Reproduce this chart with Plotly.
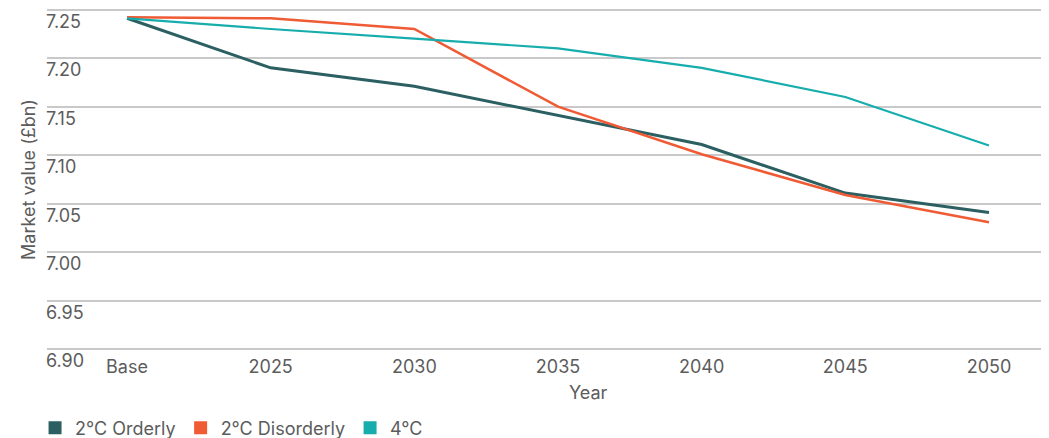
import plotly.graph_objects as go

categories = ["Base", "2025", "2030", "2035", "2040", "2045", "2050"]
orderly = [7.241, 7.190, 7.171, 7.141, 7.111, 7.061, 7.041]
disorderly = [7.242, 7.241, 7.230, 7.150, 7.101, 7.059, 7.031]
four_c = [7.241, 7.230, 7.220, 7.210, 7.190, 7.160, 7.110]
y_ticks = [6.90, 6.95, 7.00, 7.05, 7.10, 7.15, 7.20, 7.25]
y_tick_labels = ["6.90", "6.95", "7.00", "7.05", "7.10", "7.15", "7.20", "7.25"]

names = ["2°C Orderly", "2°C Disorderly", "4°C"]
colors = ["#2b5f62", "#ef5b34", "#17adad"]
widths = [3, 2.6, 2.2]
series = [orderly, disorderly, four_c]

FONT = "Inter, Roboto, sans-serif"
GREY = "#5c5c5c"

fig = go.Figure()
for name, vals, c, w in zip(names, series, colors, widths):
    fig.add_trace(go.Scatter(x=categories, y=vals, mode="lines", name=name,
                             line=dict(color=c, width=w), showlegend=False))
for name, c in zip(names, colors):
    fig.add_trace(go.Scatter(x=[None], y=[None], mode="markers", name=name,
                             marker=dict(symbol="square", size=13, color=c)))

# page body has an 8px default margin; the figure is sized to fill the rest
fig.update_layout(
    width=1041, height=430,
    margin=dict(l=39, r=6, t=0, b=87, autoexpand=False),
    paper_bgcolor="white", plot_bgcolor="white",
    font=dict(family=FONT, size=18, color=GREY),
    legend=dict(orientation="h", xref="paper", yref="paper",
                x=-0.012, xanchor="left", y=-0.2245, yanchor="middle",
                font=dict(size=18, color=GREY), itemwidth=30, tracegroupgap=0),
    annotations=[dict(text="Year", xref="paper", yref="paper", x=0.544, y=-0.1224,
                      showarrow=False, font=dict(size=18, color=GREY),
                      xanchor="center", yanchor="middle")],
)
fig.update_xaxes(type="category", range=[-0.557, 6.376], showgrid=False,
                 showline=False, zeroline=False, ticks="", automargin=False,
                 ticklabelstandoff=3,
                 tickfont=dict(size=18, color=GREY))
fig.update_yaxes(range=[6.8984, 7.2516], tickvals=y_ticks,
                 ticktext=["<br>" + t for t in y_tick_labels],
                 ticklabelposition="inside", ticklabeloverflow="allow",
                 ticklabelstandoff=-4,
                 showgrid=True, gridcolor="#c9c9c9", automargin=False,
                 gridwidth=1.5, showline=False, zeroline=False, ticks="",
                 tickfont=dict(size=18, color=GREY),
                 title=dict(text="Market value (£bn)", standoff=5,
                            font=dict(size=18, color=GREY)))

fig.write_html("out.html")
